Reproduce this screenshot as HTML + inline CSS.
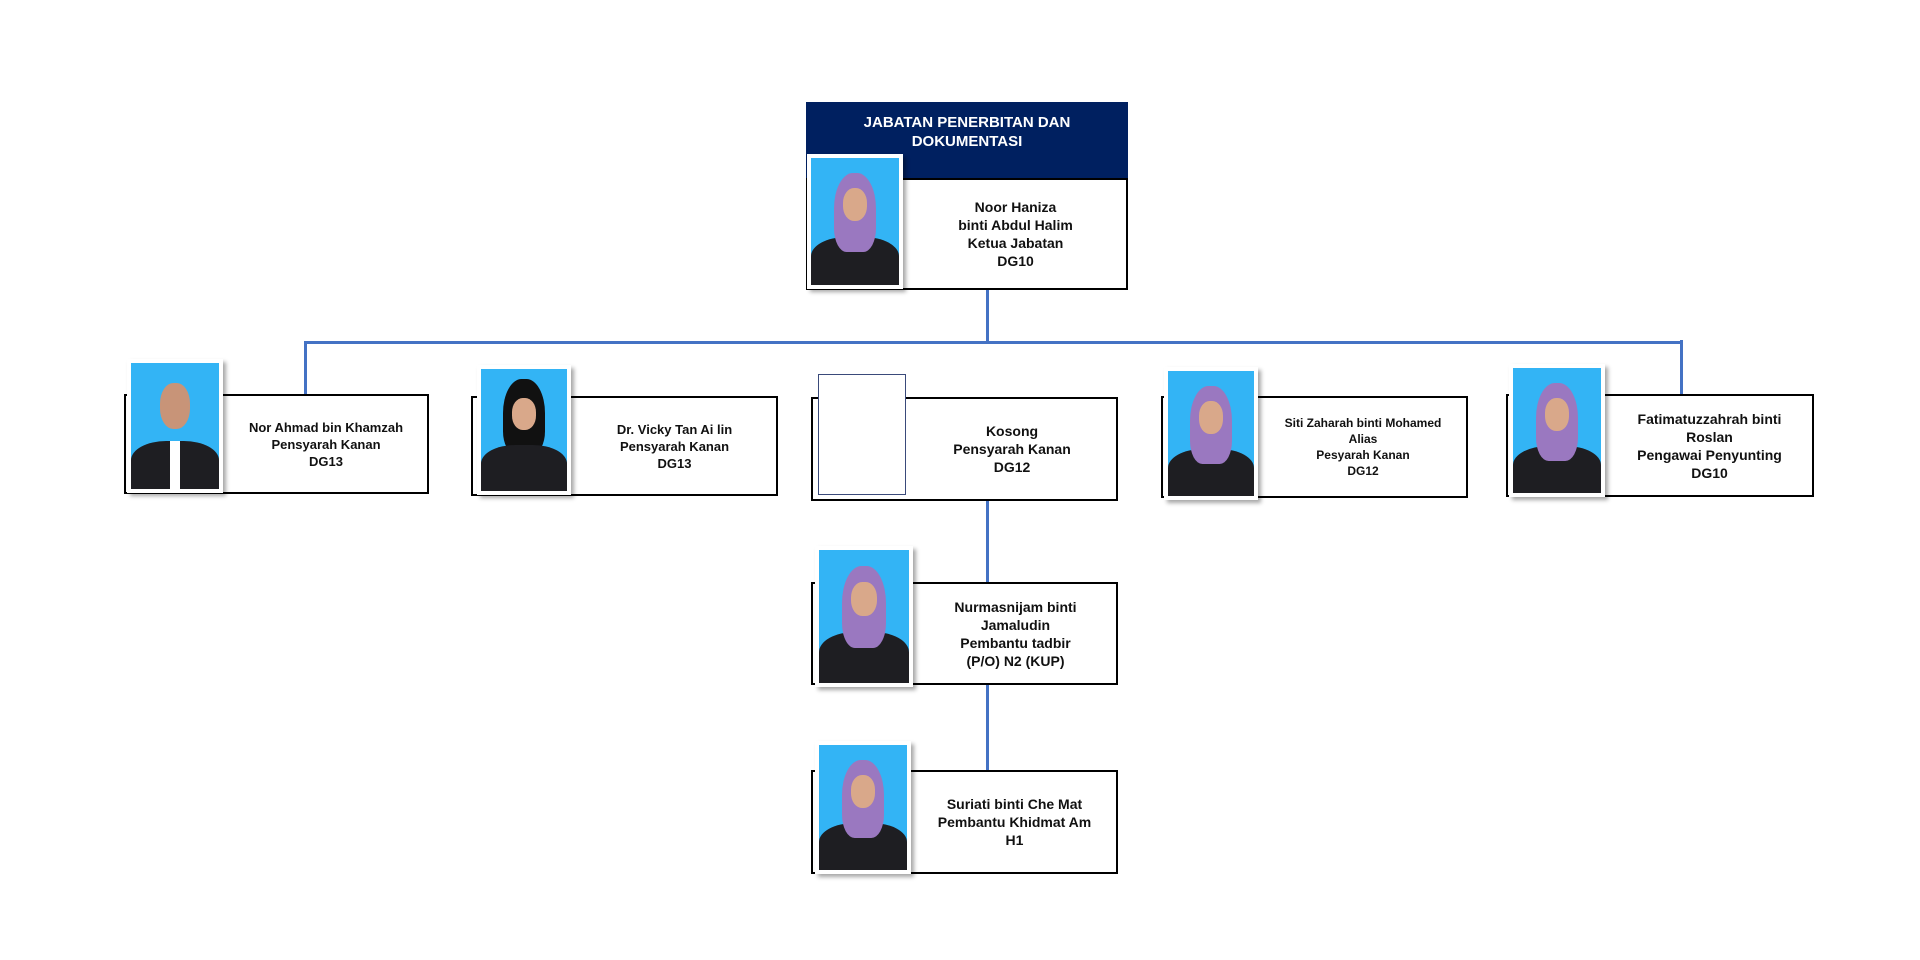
<!DOCTYPE html>
<html><head><meta charset="utf-8"><style>
body{margin:0;width:1920px;height:960px;background:#fff;position:relative;overflow:hidden;font-family:"Liberation Sans",Arial,sans-serif}
.box{position:absolute;border:2px solid #000;background:#fff;box-sizing:border-box}
.ph{position:absolute;background:#fff;box-shadow:3px 3px 4px rgba(0,0,0,.35);box-sizing:border-box;padding:4px}
.ph .in{width:100%;height:100%;background:#33b4f5;position:relative;overflow:hidden}
.ph .body{position:absolute;left:0;right:0;bottom:0;height:38%;background:#1e1e22;border-radius:40% 40% 0 0}
.ph .hj{position:absolute;left:26%;width:48%;top:12%;height:62%;background:#9a78c0;border-radius:45% 45% 30% 30%}
.ph .face{position:absolute;left:36%;width:28%;top:24%;height:26%;background:#d9a88a;border-radius:45%}
.ph .hd{position:absolute;left:33%;width:34%;top:16%;height:36%;background:#c89478;border-radius:45%}
.ph .tie{position:absolute;left:44%;width:12%;bottom:0;height:38%;background:#fff}
.t{position:absolute;display:flex;align-items:center;justify-content:center;text-align:center;font-weight:bold;font-size:13px;line-height:17px;color:#111}
.ln{position:absolute;background:#4472c4}
</style></head><body>
<div class="ln" style="left:986px;top:288px;width:3px;height:55px"></div>
<div class="ln" style="left:304px;top:341px;width:1379px;height:3px"></div>
<div class="ln" style="left:304px;top:341px;width:3px;height:56px"></div>
<div class="ln" style="left:1680px;top:340px;width:3px;height:56px"></div>
<div class="ln" style="left:986px;top:500px;width:3px;height:84px"></div>
<div class="ln" style="left:986px;top:684px;width:3px;height:88px"></div>

<div style="position:absolute;left:806px;top:102px;width:322px;height:78px;background:#002060"></div>
<div class="t" style="left:806px;top:110px;width:322px;height:44px;color:#fff;font-size:15px;line-height:19px">JABATAN PENERBITAN DAN<br>DOKUMENTASI</div>
<div class="box" style="left:806px;top:178px;width:322px;height:112px"></div>
<div class="t" style="left:903px;top:178px;width:225px;height:112px;font-size:14px;line-height:18px">Noor Haniza<br>binti Abdul Halim<br>Ketua Jabatan<br>DG10</div>
<div class="ph" style="left:807px;top:154px;width:96px;height:135px"><div class="in"><div class="body"></div><div class="hj"></div><div class="face"></div></div></div>

<div class="box" style="left:124px;top:394px;width:305px;height:100px"></div>
<div class="t" style="left:223px;top:394px;width:206px;height:100px">Nor Ahmad bin Khamzah<br>Pensyarah Kanan<br>DG13</div>
<div class="ph" style="left:127px;top:359px;width:96px;height:134px"><div class="in"><div class="body"></div><div class="tie"></div><div class="hd"></div></div></div>

<div class="box" style="left:471px;top:396px;width:307px;height:100px"></div>
<div class="t" style="left:571px;top:396px;width:207px;height:100px">Dr. Vicky Tan Ai lin<br>Pensyarah Kanan<br>DG13</div>
<div class="ph" style="left:477px;top:365px;width:94px;height:130px"><div class="in"><div class="hj" style="background:#111;top:8%"></div><div class="body"></div><div class="face"></div></div></div>

<div class="box" style="left:811px;top:397px;width:307px;height:104px"></div>
<div class="t" style="left:906px;top:397px;width:212px;height:104px;font-size:14px;line-height:18px">Kosong<br>Pensyarah Kanan<br>DG12</div>
<div style="position:absolute;left:818px;top:374px;width:88px;height:121px;border:1px solid #3a4a7a;background:#fff;box-sizing:border-box"></div>

<div class="box" style="left:1161px;top:396px;width:307px;height:102px"></div>
<div class="t" style="left:1258px;top:396px;width:210px;height:102px;font-size:12px;line-height:16px">Siti Zaharah binti Mohamed<br>Alias<br>Pesyarah Kanan<br>DG12</div>
<div class="ph" style="left:1164px;top:367px;width:94px;height:133px"><div class="in"><div class="body"></div><div class="hj"></div><div class="face"></div></div></div>

<div class="box" style="left:1506px;top:394px;width:308px;height:103px"></div>
<div class="t" style="left:1605px;top:394px;width:209px;height:103px;font-size:14px;line-height:18px">Fatimatuzzahrah binti<br>Roslan<br>Pengawai Penyunting<br>DG10</div>
<div class="ph" style="left:1509px;top:364px;width:96px;height:133px"><div class="in"><div class="body"></div><div class="hj"></div><div class="face"></div></div></div>

<div class="box" style="left:811px;top:582px;width:307px;height:103px"></div>
<div class="t" style="left:913px;top:582px;width:205px;height:103px;font-size:14px;line-height:18px">Nurmasnijam binti<br>Jamaludin<br>Pembantu tadbir<br>(P/O) N2 (KUP)</div>
<div class="ph" style="left:815px;top:546px;width:98px;height:141px"><div class="in"><div class="body"></div><div class="hj"></div><div class="face"></div></div></div>

<div class="box" style="left:811px;top:770px;width:307px;height:104px"></div>
<div class="t" style="left:911px;top:770px;width:207px;height:104px;font-size:14px;line-height:18px">Suriati binti Che Mat<br>Pembantu Khidmat Am<br>H1</div>
<div class="ph" style="left:815px;top:741px;width:96px;height:133px"><div class="in"><div class="body"></div><div class="hj"></div><div class="face"></div></div></div>
</body></html>
